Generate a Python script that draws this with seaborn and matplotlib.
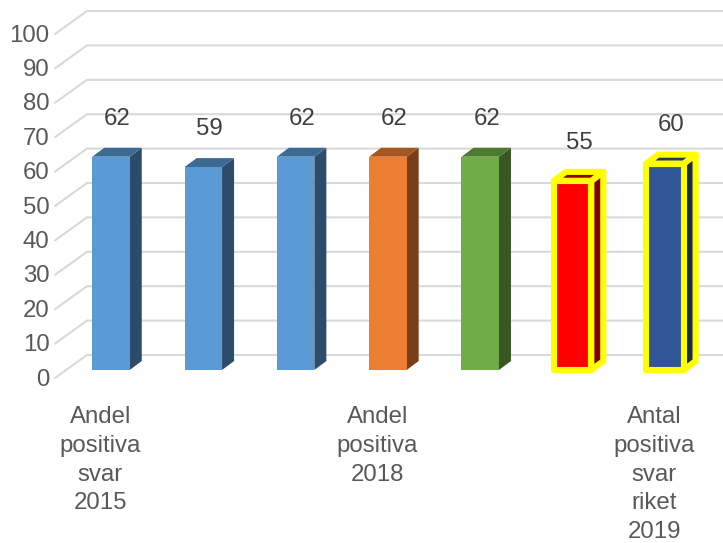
import matplotlib
matplotlib.use('Agg')
import matplotlib.pyplot as plt
from matplotlib.patches import Polygon
import pandas as pd
import seaborn as sns

# Data
categories = ['2015', '2016', '2017', '2018', '2019', 'Riket 2018', 'Riket 2019']
values = [62, 59, 62, 62, 62, 55, 60]
y_ticks = [0, 10, 20, 30, 40, 50, 60, 70, 80, 90, 100]
x_labels = {
    0: 'Andel\npositiva\nsvar\n2015',
    3: 'Andel\npositiva\n2018',
    6: 'Antal\npositiva\nsvar\nriket\n2019',
}

front_colors = ['#5B9BD5', '#5B9BD5', '#5B9BD5', '#ED7D31', '#70AD47', '#FF0000', '#2F5597']
side_colors = ['#2D4C6B', '#2D4C6B', '#2D4C6B', '#773E18', '#385723', '#800000', '#182B4C']
top_colors = ['#3C6A93', '#3C6A93', '#3C6A93', '#A5571F', '#4E7931', '#8B0000', '#1F3864']
highlighted = [5, 6]

sns.set_style('white')
plt.rcParams['font.family'] = ['Liberation Sans', 'DejaVu Sans']

# Full figure axes, one unit in x = 92.3 px, 10 units in y = 34.4 px
fig = plt.figure(figsize=(7.23, 5.43), dpi=100)
ax = fig.add_axes([0, 0, 1, 1])

df = pd.DataFrame({'category': categories, 'value': values})
sns.barplot(data=df, x='category', y='value', hue='category', order=categories,
            hue_order=categories, palette=front_colors, saturation=1, width=0.406,
            dodge=False, legend=False, zorder=3, linewidth=0, ax=ax)

ax.set_xlim(-1.2026, 6.63)
ax.set_ylim(-50.3, 107.56)
ax.set_axis_off()

# Floor and back wall gridlines
for v in y_ticks:
    ax.plot([-0.607, -0.26, 6.63], [v - 2.33, v + 4.36, v + 4.36],
            color='#D9D9D9', lw=1.5, zorder=1, solid_joinstyle='miter')
    ax.text(-0.665, v - 2.8, str(v), ha='right', va='center', fontsize=17.3, color='#595959')

# 3D look: side and top faces come from each drawn bar
depth_x = 0.13
depth_y = 2.6
bars = sorted([b for b in ax.patches if b.get_height() > 0], key=lambda b: b.get_x())
for i, bar in enumerate(bars):
    x0 = bar.get_x()
    x1 = x0 + bar.get_width()
    h = bar.get_height()
    edge = 'yellow' if i in highlighted else 'none'
    lw = 4.4 if i in highlighted else 0
    side = Polygon([(x1, 0), (x1 + depth_x, depth_y), (x1 + depth_x, h + depth_y), (x1, h)],
                   facecolor=side_colors[i], edgecolor=edge, lw=lw, joinstyle='round', zorder=2)
    top = Polygon([(x0, h), (x1, h), (x1 + depth_x, h + depth_y), (x0 + depth_x, h + depth_y)],
                  facecolor=top_colors[i], edgecolor=edge, lw=lw, joinstyle='round', zorder=2)
    ax.add_patch(side)
    ax.add_patch(top)
    if i in highlighted:
        bar.set_edgecolor('yellow')
        bar.set_linewidth(4.4)
        bar.set_joinstyle('round')
    ax.text(i + 0.07, h + 11.1, str(values[i]), ha='center', va='center',
            fontsize=17.3, color='#404040')

for i, label in x_labels.items():
    ax.text(i - 0.115, -10.5, label, ha='center', va='top', fontsize=17.3,
            color='#595959', linespacing=1.40)

plt.savefig('out.png', dpi=100)
